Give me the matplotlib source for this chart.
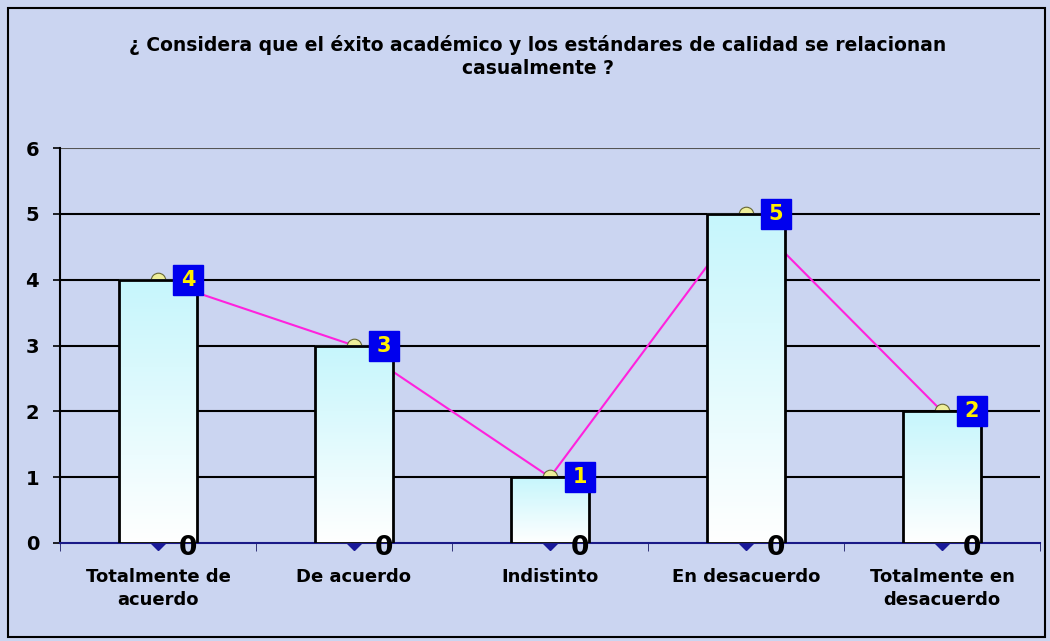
import matplotlib
matplotlib.use("Agg")
import matplotlib.pyplot as plt
import numpy as np
from matplotlib.patches import Rectangle
from matplotlib.colors import LinearSegmentedColormap

categories = ["Totalmente de\nacuerdo", "De acuerdo", "Indistinto", "En desacuerdo", "Totalmente en\ndesacuerdo"]
values = [4, 3, 1, 5, 2]
zeros = [0, 0, 0, 0, 0]
title_lines = ["¿ Considera que el éxito académico y los estándares de calidad se relacionan",
               "casualmente ?"]
yticks = [0, 1, 2, 3, 4, 5, 6]

plt.rcParams['font.family'] = ['DejaVu Sans']

fig = plt.figure(figsize=(10.5, 6.41), dpi=100)
bg = "#cbd5f1"
fig.patch.set_facecolor(bg)
ax = fig.add_axes([60/1050, 1-543/641, 980/1050, 395/641])
ax.set_facecolor(bg)

x = np.arange(len(categories))
ax.set_xlim(-0.5, len(categories) - 0.5)
ax.set_ylim(0, 6)

# gridlines
for yv in yticks[1:]:
    ax.axhline(yv, color="#555555" if yv == 6 else "black", lw=1.5, zorder=1)

# line + markers behind bars
ax.plot(x, values, color="#ff22dd", lw=1.5, zorder=2)
ax.plot(x, values, 'o', ms=10.5, mfc="#eeee99", mec="#666633", mew=0.8, ls='none', zorder=2.5)
ax.plot(x, zeros, 'D', ms=7.5, color="#1a1a99", ls='none', zorder=2.5, clip_on=False)

# gradient bars
grad = np.linspace(0, 1, 256).reshape(-1, 1)
cmap = LinearSegmentedColormap.from_list("bar", ["#ffffff", "#c6f6fc"])
w = 0.4
for xi, v in zip(x, values):
    ax.imshow(grad, extent=(xi - w/2, xi + w/2, 0, v), origin="lower", cmap=cmap,
              aspect="auto", zorder=3)
    ax.add_patch(Rectangle((xi - w/2, 0), w, v, fill=False, ec="black", lw=2, zorder=4))

# value labels (blue squares with yellow numbers)
off = 0.153
for xi, v in zip(x, values):
    ax.plot(xi + off, v, 's', ms=22, color="#0000ee", zorder=6)
    ax.text(xi + off, v, str(v), ha="center", va="center", fontsize=15,
            fontweight="bold", color="#ffee00", zorder=7)
for xi, z in zip(x, zeros):
    ax.text(xi + off, z - 0.07, str(z), ha="center", va="center", fontsize=19,
            fontweight="bold", color="black", zorder=7, clip_on=False)

ax.set_xticks(x)
ax.set_xticklabels(categories, fontsize=13, fontweight="bold", linespacing=1.35)
ax.set_xticks(np.arange(-0.5, len(categories)), minor=True)
ax.tick_params(axis="x", which="major", length=0, pad=18)
ax.tick_params(axis="x", which="minor", length=6, color="#1a1a66", direction="out")
ax.set_yticks(yticks)
ax.set_yticklabels([str(i) for i in yticks], fontsize=14, fontweight="bold")
ax.tick_params(axis="y", length=5, width=1.2, pad=10)
for s in ["top", "right"]:
    ax.spines[s].set_visible(False)
ax.spines["left"].set_linewidth(1.5)
ax.spines["bottom"].set_color("#1a1a88")
ax.spines["bottom"].set_linewidth(1.5)
ax.spines["bottom"].set_zorder(2.6)

fig.text(538/1050, 1 - 45/641, title_lines[0], ha="center", va="center", fontsize=13.5,
         fontweight="bold")
fig.text(538/1050, 1 - 68/641, title_lines[1], ha="center", va="center", fontsize=13.5,
         fontweight="bold")

fig.add_artist(Rectangle((8/1050, 4/641), 1037/1050, 629/641, transform=fig.transFigure,
                         fill=False, ec="black", lw=1.5))

fig.savefig("out.png", dpi=100, facecolor=fig.get_facecolor())
